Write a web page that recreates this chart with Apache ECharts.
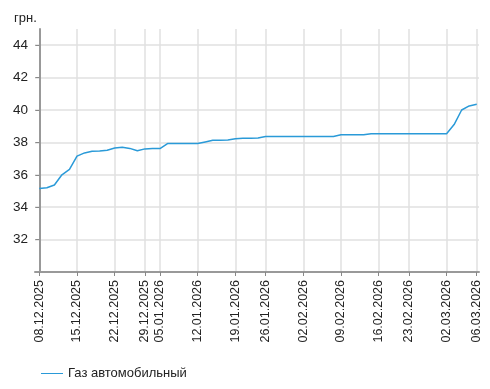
<!DOCTYPE html>
<html>
<head>
<meta charset="utf-8">
<script src="https://cdn.jsdelivr.net/npm/echarts@6/dist/echarts.min.js"></script>
<style>html,body{margin:0;padding:0;background:#fff}#c{width:490px;height:389px}</style>
</head>
<body>
<div id="c"></div>
<script>
// Trading days (categories)
const dates = [
  '08.12.2025','09.12.2025','10.12.2025','11.12.2025','12.12.2025',
  '15.12.2025','16.12.2025','17.12.2025','18.12.2025','19.12.2025',
  '22.12.2025','23.12.2025','24.12.2025','26.12.2025',
  '29.12.2025','30.12.2025',
  '05.01.2026','06.01.2026','07.01.2026','08.01.2026','09.01.2026',
  '12.01.2026','13.01.2026','14.01.2026','15.01.2026','16.01.2026',
  '19.01.2026','20.01.2026','21.01.2026','22.01.2026',
  '26.01.2026','27.01.2026','28.01.2026','29.01.2026','30.01.2026',
  '02.02.2026','03.02.2026','04.02.2026','05.02.2026','06.02.2026',
  '09.02.2026','10.02.2026','11.02.2026','12.02.2026','13.02.2026',
  '16.02.2026','17.02.2026','18.02.2026','19.02.2026',
  '23.02.2026','24.02.2026','25.02.2026','26.02.2026','27.02.2026',
  '02.03.2026','03.03.2026','04.03.2026','05.03.2026',
  '06.03.2026'
];
// Price, UAH
const gasPrice = [
  35.15,35.20,35.37,36.00,36.33,
  37.15,37.35,37.45,37.47,37.52,
  37.65,37.70,37.63,37.48,
  37.60,37.62,
  37.62,37.93,37.93,37.93,37.93,
  37.93,38.03,38.13,38.13,38.15,
  38.23,38.25,38.25,38.27,
  38.36,38.36,38.36,38.36,38.36,
  38.36,38.36,38.36,38.36,38.36,
  38.47,38.47,38.47,38.47,38.54,
  38.54,38.54,38.54,38.54,
  38.54,38.54,38.54,38.54,38.54,
  38.54,39.10,40.00,40.25,
  40.35
];
const tickDates = ['08.12.2025','15.12.2025','22.12.2025','29.12.2025','05.01.2026','12.01.2026','19.01.2026','26.01.2026','02.02.2026','09.02.2026','16.02.2026','23.02.2026','02.03.2026','06.03.2026'];
const yTicks = [32,34,36,38,40,42,44];
const seriesName = 'Газ автомобильный';
const unitLabel = 'грн.';

const tickIdx = tickDates.map(d => dates.indexOf(d));
const chart = echarts.init(document.getElementById('c'), null, {renderer:'canvas'});
const font = 'Liberation Sans, Arial, sans-serif';
chart.setOption({
  animation: false,
  title: {text: unitLabel, left: 9, top: 7, textStyle: {fontFamily: font, fontSize: 13, fontWeight: 'normal', color: '#222'}},
  grid: {left: 35, right: 11, top: 29, bottom: 117, outerBoundsMode: 'none', containLabel: false},
  legend: {
    left: 36, top: 362, itemWidth: 22, itemHeight: 10, itemGap: 8, icon: 'path://M0,4.5L22,4.5L22,5.5L0,5.5Z',
    textStyle: {fontFamily: font, fontSize: 13, color: '#222'},
    data: [seriesName]
  },
  xAxis: {
    type: 'value', min: -0.57, max: 58.3,
    axisLine: {show: true, lineStyle: {color: '#999', width: 2}},
    axisTick: {show: true, customValues: tickIdx, length: 4, lineStyle: {color: '#888'}},
    axisLabel: {customValues: tickIdx, rotate: 90, margin: 8, fontFamily: font, fontSize: 12.5, color: '#222',
      formatter: v => dates[Math.round(v)] || ''},
    splitLine: {show: true, lineStyle: {color: '#e0e0e0', width: 1.5}}
  },
  yAxis: {
    type: 'value', min: 30, max: 45,
    axisLine: {show: true, lineStyle: {color: '#999', width: 2}},
    axisTick: {show: true, customValues: yTicks, length: 4, lineStyle: {color: '#888'}},
    axisLabel: {customValues: yTicks, margin: 7, fontFamily: font, fontSize: 13.5, color: '#222'},
    splitLine: {show: true, lineStyle: {color: '#e0e0e0', width: 1.5}}
  },
  series: [{
    name: seriesName, type: 'line', showSymbol: false,
    data: gasPrice.map((v, i) => [i, v]),
    lineStyle: {color: '#2a9ad8', width: 1.5}, itemStyle: {color: '#2a9ad8'}
  }]
});
</script>
</body>
</html>
